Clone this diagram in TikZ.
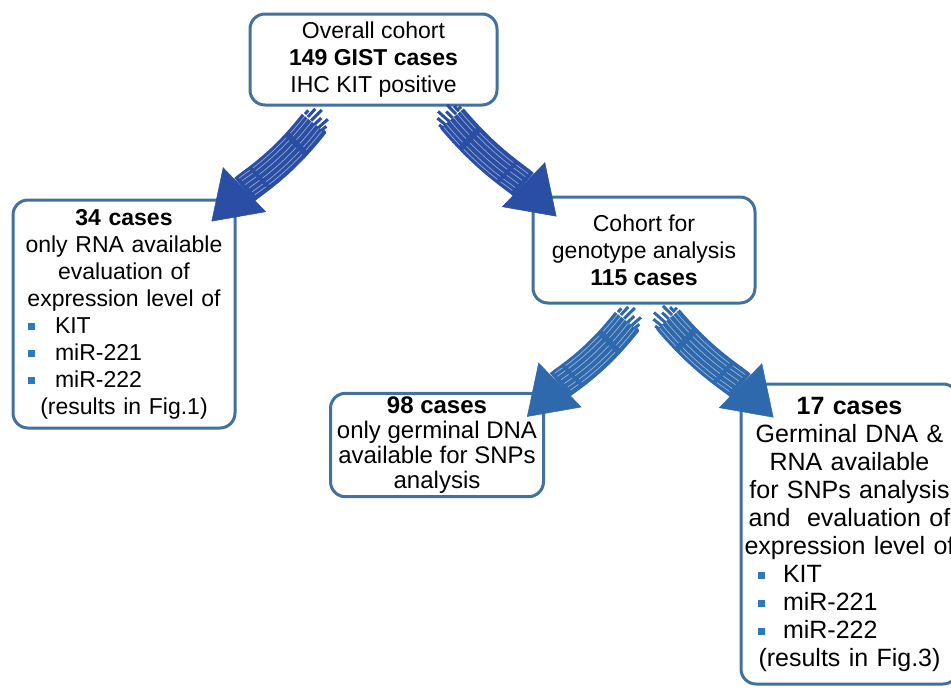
\documentclass[tikz,border=0pt]{standalone}
\usepackage{fontspec}
\setmainfont{Liberation Sans}
\usetikzlibrary{positioning,calc,arrows.meta}
\definecolor{boxblue}{HTML}{41719C}
\definecolor{upblue}{HTML}{2A4EA4}
\definecolor{lowblue}{HTML}{2E69AD}
\definecolor{bulblue}{HTML}{2E78C2}
\newcommand{\bul}{\textcolor{bulblue}{\rule[3.5pt]{6.5pt}{6.5pt}}}
\newcommand{\bitem}[2]{\makebox[\linewidth][l]{\rlap{\hspace{#1}\bul}\hspace{42pt}#2}}

\begin{document}
\begin{tikzpicture}[x=1pt,y=-1pt,
    cbox/.style={draw=boxblue, line width=3pt, rounded corners=15pt, align=center, fill=white},
    bigarrow/.style={line width=31pt, -{Triangle[length=46pt 0 0,width=62pt 0 0,line width=0.5pt 0 0]}},
    streak/.style={draw=white, line width=0.7pt, opacity=0.5, shorten >=50pt, dash pattern=on 24pt off 6pt on 45pt off 4pt}]
    \useasboundingbox (0,0) rectangle (951,689);
    % boxes
    \node[cbox, minimum width=247pt, minimum height=91pt, font=\fontsize{23}{27}\selectfont] (top) at (373.5,59.5)
        {Overall cohort\\\textbf{149 GIST cases}\\IHC KIT positive};
    \node[cbox, text width=222pt, inner xsep=0pt, minimum height=228pt, font=\fontsize{23}{27}\selectfont] (rna) at (124,314)
        {\textbf{34 cases}\\only RNA available\\evaluation of\\expression level of\\\bitem{15pt}{KIT}\\\bitem{15pt}{miR-221}\\\bitem{15pt}{miR-222}\\(results in Fig.1)};
    \node[cbox, minimum width=222pt, minimum height=106pt, font=\fontsize{23}{27}\selectfont] (geno) at (644,250)
        {Cohort for\\genotype analysis\\\textbf{115 cases}};
    \node[cbox, minimum width=213pt, minimum height=100pt, font=\fontsize{24}{25}\selectfont] (dna) at (437,445)
        {\textbf{98 cases}\\only germinal DNA\\available for SNPs\\analysis};
    \node[cbox, text width=217pt, inner xsep=0pt, minimum height=300pt, font=\fontsize{25}{28}\selectfont] (both) at (849.5,534)
        {\textbf{17 cases}\\Germinal DNA \&\\RNA available\\for SNPs analysis\\and\ \ evaluation of\\expression level of\\\bitem{17pt}{KIT}\\\bitem{17pt}{miR-221}\\\bitem{17pt}{miR-222}\\(results in Fig.3)};
    % arrow ends
    \coordinate (a1s) at ([shift={(-59.5,17)}]top.south);
    \coordinate (a1e) at ([shift={(-25,23)}]rna.north east);
    \coordinate (a2s) at ([shift={(78.5,12)}]top.south);
    \coordinate (a2e) at ([shift={(25,21)}]geno.north west);
    \coordinate (a3s) at ([shift={(-17,17)}]geno.south);
    \coordinate (a3e) at ([shift={(-18,25)}]dna.north east);
    \coordinate (a4s) at ([shift={(24,15)}]geno.south);
    \coordinate (a4e) at ([shift={(34,35)}]both.north west);
    % sketchy arrows
    \foreach \s/\e/\o/\i/\c in {a1s/a1e/-128/44/upblue, a2s/a2e/-50/136/upblue, a3s/a3e/-128/44/lowblue, a4s/a4e/-50/136/lowblue}{
        \draw[bigarrow, draw=\c] (\s) to[out=\o,in=\i] (\e);
        \foreach \k/\l in {-13/5,-9/11,-4/15,1/9,6/13,10/7,13/3}
            \draw[draw=\c, line width=3pt] ($($(\s)!\k pt!90:(\e)$)!-\l pt!(\e)$) -- ($(\s)!\k pt!90:(\e)$);
        \foreach \k in {-12,-8,-3,2,7,11}
            \draw[streak] ($(\s)!\k pt!90:(\e)$) to[out=\o,in=\i] ($(\e)!\k pt!-90:(\s)$);
    }
\end{tikzpicture}
\end{document}
